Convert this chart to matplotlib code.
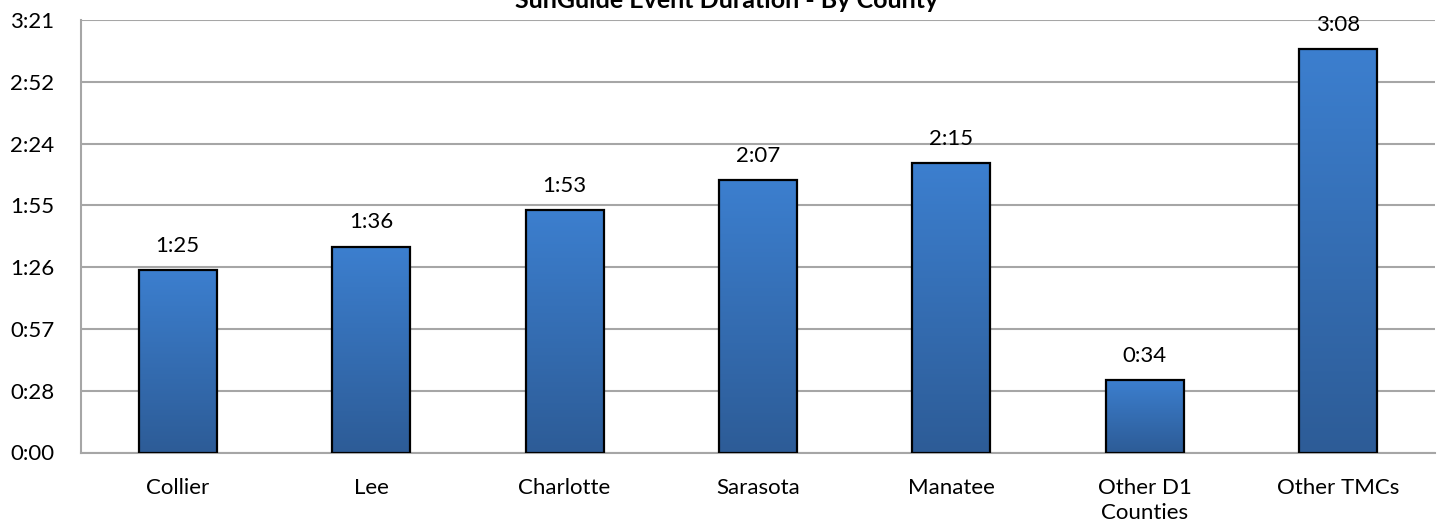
import matplotlib
matplotlib.use("Agg")
import matplotlib.pyplot as plt
import numpy as np
from matplotlib.ticker import FuncFormatter, MultipleLocator
from matplotlib.colors import LinearSegmentedColormap

categories = ["Collier", "Lee", "Charlotte", "Sarasota", "Manatee", "Other D1\nCounties", "Other TMCs"]
durations = ["1:25", "1:36", "1:53", "2:07", "2:15", "0:34", "3:08"]
title = "SunGuide Event Duration - By County"

def to_min(s):
    h, m = s.split(":")
    return int(h) * 60 + int(m)

values = [to_min(s) for s in durations]

plt.rcParams['font.family'] = ['Lato', 'DejaVu Sans']
FS = 16

fig = plt.figure(figsize=(14.4, 5.29), dpi=100)
ax = fig.add_axes([81/1440, 1 - 452.5/529, 1354/1440, 432.5/529])

x = np.arange(len(categories))
width = 0.403
ymax = 201.6

bars = ax.bar(x, values, width=width, facecolor='none', edgecolor='black', linewidth=1.6, zorder=4)
cmap = LinearSegmentedColormap.from_list("g", ["#2D5C97", "#3C7FCF"])
for b in bars:
    x0, w, h = b.get_x(), b.get_width(), b.get_height()
    ax.imshow(np.linspace(1, 0, 256).reshape(-1, 1), cmap=cmap, aspect='auto',
              extent=[x0, x0 + w, 0, h], zorder=3, interpolation='bilinear')
ax.set_xlim(-0.5, len(categories) - 0.5)
ax.set_ylim(0, ymax)

for xi, v, s in zip(x, values, durations):
    ax.annotate(s, (xi, v), xytext=(0, 13), textcoords='offset points',
                ha='center', va='baseline', fontsize=FS, color='black', zorder=5)

ax.yaxis.set_major_locator(MultipleLocator(28.8))
ax.yaxis.set_major_formatter(FuncFormatter(lambda v, p: f"{int(v + 1e-6)//60}:{int(v + 1e-6)%60:02d}"))
ax.grid(axis='y', color='#A6A6A6', linewidth=1.5, zorder=0)
ax.set_axisbelow(True)
ax.set_xticks(x)
ax.set_xticklabels(categories, fontsize=FS, linespacing=1.35)
ax.tick_params(axis='y', labelsize=FS, length=0, pad=19)
ax.tick_params(axis='x', length=0, pad=18)
for s in ['top', 'right']:
    ax.spines[s].set_visible(False)
ax.spines['left'].set_color('#A6A6A6')
ax.spines['left'].set_linewidth(1.5)
ax.spines['bottom'].set_color('#A6A6A6')
ax.spines['bottom'].set_linewidth(1.5)

fig.text(727/1440, 1 - 8/529, title, ha='center', va='baseline', fontsize=18, fontweight='bold')

fig.savefig("out.png", dpi=100)
